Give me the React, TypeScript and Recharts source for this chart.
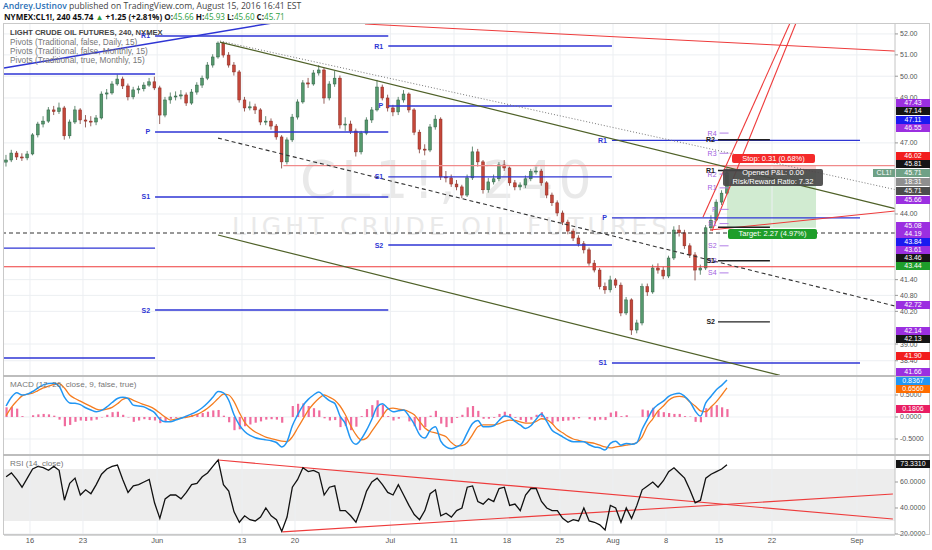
import React from "react";
import {
  ComposedChart,
  Bar,
  Line,
  XAxis,
  YAxis,
  CartesianGrid,
  ReferenceLine,
  ReferenceArea,
} from "recharts";

const MAY_BARS = [
  [46.17, 46.48, 45.98, 46.26], [46.26, 46.7, 46.17, 46.56], [46.56, 46.65, 46.26, 46.39], [46.39, 46.55, 46.22, 46.35],
  [46.35, 46.65, 46.25, 46.52], [46.52, 47.43, 46.46, 47.35], [47.35, 47.93, 47.24, 47.83], [47.83, 48.18, 47.68, 47.96],
  [47.96, 48.59, 47.88, 48.46], [48.46, 48.64, 48.23, 48.39], [48.39, 48.79, 48.28, 48.55], [48.55, 48.64, 47.14, 47.31],
  [47.31, 48.03, 47.19, 47.92], [47.92, 48.64, 47.83, 48.46], [48.46, 48.54, 47.83, 48.01], [48.01, 48.23, 47.68, 47.96],
  [47.96, 48.18, 47.73, 47.92], [47.92, 48.23, 47.78, 48.1], [48.1, 49.3, 48.03, 49.18], [49.18, 49.41, 48.94, 49.23],
  [49.23, 49.77, 49.15, 49.64], [49.64, 50.08, 49.56, 49.87], [49.87, 49.98, 49.41, 49.55], [49.55, 49.66, 48.89, 49.05],
  [49.05, 49.51, 48.94, 49.37], [49.37, 49.56, 49.2, 49.42], [49.42, 49.72, 49.3, 49.59], [49.59, 49.92, 49.51, 49.74],
  [49.74, 49.98, 49.36, 49.46],
];
const JUN_BARS = [
  [49.46, 49.56, 47.83, 48.23], [48.23, 49.05, 48.13, 48.91], [48.91, 49.25, 48.74, 49.05], [49.05, 49.3, 48.89, 49.09],
  [49.09, 49.36, 48.94, 49.14], [49.14, 49.25, 48.64, 48.77], [48.77, 49.41, 48.69, 49.27], [49.27, 49.72, 49.15, 49.59],
  [49.59, 50.03, 49.46, 49.91], [49.91, 50.66, 49.82, 50.52], [50.52, 51.03, 50.4, 50.9], [50.9, 51.64, 50.82, 51.56],
  [51.56, 51.62, 50.87, 50.99], [50.99, 51.13, 50.4, 50.52], [50.52, 50.66, 50.03, 50.2], [50.2, 50.29, 48.79, 48.91],
  [48.91, 49.05, 48.39, 48.55], [48.55, 48.84, 48.44, 48.6], [48.6, 48.74, 48.28, 48.46], [48.46, 48.54, 47.78, 47.92],
  [47.92, 48.18, 47.78, 47.96], [47.96, 48.08, 47.58, 47.74], [47.74, 47.83, 47.14, 47.26], [47.26, 47.34, 45.9, 46.18],
  [46.18, 47.24, 46.07, 47.13], [47.13, 48.28, 47.04, 48.14], [48.14, 48.94, 48.03, 48.82], [48.82, 49.82, 48.74, 49.69],
  [49.69, 49.92, 49.46, 49.64], [49.64, 50.29, 49.56, 50.15], [50.15, 50.52, 50.03, 50.29], [50.29, 50.4, 48.74, 49.0],
  [49.0, 49.77, 48.89, 49.64], [49.64, 50.24, 49.51, 49.91], [49.91, 50.03, 47.63, 47.79], [47.79, 48.13, 47.53, 47.83],
  [47.83, 47.98, 47.39, 47.52], [47.52, 47.63, 46.41, 46.61], [46.61, 47.53, 46.5, 47.43], [47.43, 48.13, 47.34, 48.01],
  [48.01, 48.59, 47.88, 48.46], [48.46, 49.83, 48.39, 49.5], [49.5, 49.61, 48.89, 49.0], [49.0, 49.15, 48.39, 48.55],
];
const JUL_BARS = [
  [48.55, 48.69, 48.18, 48.37], [48.37, 49.05, 48.23, 48.91], [48.91, 49.36, 48.79, 49.18], [49.18, 49.25, 48.34, 48.46],
  [48.46, 48.54, 47.34, 47.47], [47.47, 47.58, 46.55, 46.73], [46.73, 46.94, 46.46, 46.69], [46.69, 47.83, 46.6, 47.7],
  [47.7, 48.23, 47.58, 48.05], [48.05, 48.13, 45.41, 45.54], [45.54, 45.79, 45.31, 45.5], [45.5, 45.64, 45.12, 45.24],
  [45.24, 45.41, 44.98, 45.12], [45.12, 45.21, 44.65, 44.78], [44.78, 45.64, 44.7, 45.5], [45.5, 46.84, 45.41, 46.61],
  [46.61, 46.74, 45.98, 46.18], [46.18, 46.26, 44.84, 45.0], [45.0, 45.5, 44.88, 45.33], [45.33, 45.64, 45.22, 45.46],
  [45.46, 46.17, 45.36, 46.05], [46.05, 46.26, 45.79, 45.92], [45.92, 45.98, 45.17, 45.29], [45.29, 45.41, 44.98, 45.12],
  [45.12, 45.31, 44.98, 45.2], [45.2, 45.6, 45.07, 45.46], [45.46, 45.88, 45.36, 45.76], [45.76, 45.98, 45.64, 45.79],
  [45.79, 45.88, 45.17, 45.29], [45.29, 45.36, 44.65, 44.78], [44.78, 44.88, 44.33, 44.46], [44.46, 44.56, 43.91, 44.04],
  [44.04, 44.14, 43.55, 43.67], [43.67, 43.77, 43.18, 43.31], [43.31, 43.41, 42.91, 43.03], [43.03, 43.14, 42.69, 42.8],
  [42.8, 42.91, 42.42, 42.56], [42.56, 42.65, 41.94, 42.04], [42.04, 42.16, 41.68, 41.77], [41.77, 41.85, 41.03, 41.13],
  [41.13, 41.29, 40.86, 41.01], [41.01, 41.55, 40.91, 41.39],
];
const AUG_BARS = [
  [41.39, 41.46, 41.08, 41.19], [41.19, 41.29, 40.02, 40.14], [40.14, 40.74, 40.06, 40.63], [40.63, 40.69, 39.33, 39.51],
  [39.51, 39.89, 39.39, 39.77], [39.77, 41.25, 39.68, 41.13], [41.13, 41.25, 40.78, 40.93], [40.93, 41.98, 40.86, 41.85],
  [41.85, 42.03, 41.63, 41.77], [41.77, 41.9, 41.42, 41.54], [41.54, 42.33, 41.46, 42.24], [42.24, 43.5, 42.16, 43.35],
  [43.35, 43.55, 43.09, 43.24], [43.24, 43.36, 42.6, 42.72], [42.72, 42.82, 42.24, 42.36], [42.36, 42.47, 41.37, 41.77],
  [41.77, 41.98, 41.59, 41.85], [41.85, 43.55, 41.77, 43.44], [43.44, 43.95, 43.32, 43.75], [43.75, 44.6, 43.73, 44.49],
  [44.49, 44.98, 44.37, 44.86], [44.86, 45.93, 44.79, 45.71],
];

// MACD (12, 26, close, 9) per bar
const MACD_LINE = [
  0.25, 0.45, 0.55, 0.5, 0.52, 0.58, 0.66, 0.73, 0.76, 0.77,
  0.7, 0.45, 0.32, 0.31, 0.28, 0.21, 0.16, 0.12, 0.15, 0.23,
  0.33, 0.42, 0.45, 0.42, 0.27, 0.25, 0.23, 0.17, 0.1, -0.05,
  -0.11, -0.11, -0.07, -0.03, 0.02, 0.07, 0.13, 0.21, 0.32, 0.45,
  0.58, 0.55, 0.38, 0.05, -0.18, -0.33, -0.42, -0.47, -0.5, -0.52,
  -0.54, -0.58, -0.68, -0.56, -0.2, 0.05, 0.26, 0.4, 0.5, 0.57,
  0.47, 0.37, 0.31, 0.02, -0.15, -0.5, -0.62, -0.5, -0.3, -0.05,
  0.23, 0.3, 0.2, 0.12, 0.14, 0.16, 0.02, -0.16, -0.4, -0.48,
  -0.3, -0.22, -0.55, -0.68, -0.72, -0.68, -0.6, -0.36, -0.15, -0.08,
  -0.22, -0.22, -0.2, -0.08, 0.02, 0.0, -0.1, -0.18, -0.26, -0.2,
  -0.05, 0.07, -0.1, -0.3, -0.38, -0.45, -0.52, -0.56, -0.56, -0.56,
  -0.63, -0.68, -0.7, -0.75, -0.6, -0.55, -0.64, -0.6, -0.62, -0.58,
  -0.28, -0.05, 0.17, 0.28, 0.36, 0.47, 0.52, 0.54, 0.47, 0.35,
  0.14, 0.02, 0.32, 0.47, 0.62, 0.72, 0.84,
];
const MACD_SIGNAL = [
  0.03, 0.22, 0.36, 0.48, 0.52, 0.54, 0.6, 0.66, 0.7, 0.74,
  0.76, 0.66, 0.5, 0.42, 0.36, 0.3, 0.24, 0.18, 0.16, 0.18,
  0.22, 0.3, 0.4, 0.43, 0.38, 0.33, 0.28, 0.24, 0.18, 0.09,
  0.0, -0.07, -0.05, -0.02, -0.01, 0.02, 0.06, 0.12, 0.2, 0.3,
  0.42, 0.52, 0.5, 0.35, 0.1, -0.12, -0.25, -0.34, -0.4, -0.46,
  -0.49, -0.52, -0.55, -0.56, -0.45, -0.25, -0.05, 0.15, 0.3, 0.42,
  0.5, 0.45, 0.38, 0.25, 0.05, -0.2, -0.4, -0.52, -0.48, -0.32,
  -0.15, 0.02, 0.18, 0.2, 0.18, 0.16, 0.12, 0.05, -0.1, -0.25,
  -0.33, -0.36, -0.4, -0.45, -0.58, -0.66, -0.65, -0.58, -0.4, -0.22,
  -0.18, -0.18, -0.18, -0.15, -0.1, -0.07, -0.08, -0.11, -0.14, -0.14,
  -0.1, -0.04, -0.06, -0.15, -0.28, -0.36, -0.44, -0.5, -0.53, -0.56,
  -0.58, -0.6, -0.64, -0.68, -0.7, -0.68, -0.66, -0.64, -0.62, -0.58,
  -0.45, -0.2, -0.04, 0.14, 0.25, 0.38, 0.45, 0.47, 0.45, 0.34,
  0.25, 0.14, 0.12, 0.23, 0.35, 0.5, 0.66,
];
const MACD_HIST = [
  0.22, 0.23, 0.19, 0.02, 0.0, 0.04, 0.06, 0.07, 0.06, 0.03,
  -0.06, -0.21, -0.18, -0.11, -0.08, -0.09, -0.08, -0.06, -0.01, 0.05,
  0.11, 0.12, 0.05, -0.01, -0.11, -0.08, -0.05, -0.07, -0.08, -0.14,
  -0.11, -0.04, -0.02, -0.01, 0.03, 0.05, 0.07, 0.09, 0.12, 0.15,
  0.16, 0.03, -0.12, -0.3, -0.28, -0.21, -0.17, -0.13, -0.1, -0.06,
  -0.05, -0.06, -0.13, 0.0, 0.25, 0.3, 0.31, 0.25, 0.2, 0.15,
  -0.03, -0.08, -0.07, -0.23, -0.2, -0.3, -0.22, 0.02, 0.18, 0.27,
  0.38, 0.28, 0.02, -0.08, -0.04, 0.0, -0.1, -0.21, -0.3, -0.23,
  0.03, 0.14, -0.15, -0.23, -0.14, -0.02, 0.05, 0.22, 0.25, 0.14,
  -0.04, -0.04, -0.02, 0.07, 0.12, 0.07, -0.02, -0.07, -0.12, -0.06,
  0.05, 0.11, -0.04, -0.15, -0.1, -0.09, -0.08, -0.06, -0.03, 0.0,
  -0.05, -0.08, -0.06, -0.07, 0.1, 0.13, 0.02, 0.04, 0.0, 0.0,
  0.17, 0.15, 0.21, 0.14, 0.11, 0.09, 0.07, 0.07, 0.02, 0.01,
  -0.11, -0.12, 0.2, 0.24, 0.27, 0.22, 0.18,
];

// RSI (14, close) per bar
const RSI_LINE = [
  64, 67, 62, 56, 63, 70, 72, 71, 69, 72,
  69, 46, 59, 63, 50, 54, 51, 58, 66, 70,
  72, 73, 62, 52, 57, 58, 60, 62, 44, 32,
  47, 50, 50, 47, 52, 58, 59, 64, 67, 72,
  77, 58, 53, 37, 29, 34, 31, 30, 33, 40,
  34, 31, 22, 33, 56, 62, 71, 68, 69, 67,
  50, 56, 57, 38, 38, 34, 29, 40, 53, 60,
  63, 58, 52, 50, 58, 50, 42, 35, 31, 38,
  51, 54, 34, 36, 33, 38, 40, 56, 57, 45,
  43, 47, 45, 55, 56, 42, 43, 38, 50, 55,
  55, 45, 40, 38, 38, 32, 29, 31, 30, 40,
  30, 29, 27, 23, 42, 40, 29, 40, 32, 42,
  54, 57, 60, 56, 61, 68, 71, 67, 63, 54,
  44, 46, 63, 66, 68, 70, 73.33,
];

// time axis in trading days, May 16 = 0
const FIRST_BAR_DAY = -2.25;
const BAR_STEP = 0.5;
const X_DOMAIN = [-2.45, 81.6];
const DATE_TICKS = [0, 5, 12, 20, 25, 34, 40, 45, 50, 55, 60, 65, 70, 78];
const DATE_LABELS = ["16", "23", "Jun", "13", "20", "Jul", "11", "18", "25", "Aug", "8", "15", "22", "Sep"];

const PRICE_DOMAIN = [37.86, 52.53];
const PRICE_TICKS = [38.4, 39, 40.2, 40.8, 41.4, 44, 47, 49, 50, 51, 52];
const MACD_DOMAIN = [-0.864, 0.932];
const MACD_TICKS = [-0.5, 0, 0.5];
const RSI_DOMAIN = [19.2, 80.8];
const RSI_TICKS = [20, 40, 60];

// monthly pivots (Traditional, false, Monthly): [from day, to day], names, levels
const MONTHLY_PIVOTS = [
  { span: [-2.45, 11.8], names: ["", "", ""], levels: [50.1, 42.63, 38.5] },
  { span: [11.8, 33.8], names: ["R1", "P", "S1", "S2"], levels: [51.9, 47.48, 44.7, 40.25] },
  { span: [33.8, 54.9], names: ["R1", "P", "S1", "S2"], levels: [51.42, 48.64, 45.54, 42.75] },
  { span: [54.9, 78.3], names: ["R1", "P", "S1"], levels: [47.11, 43.84, 38.32] },
];
const DAILY_PIVOT_SPAN = [65.05, 65.9];
const DAILY_PIVOT_NAMES = ["R4", "R3", "R2", "R1", "P", "S1", "S2", "S3", "S4"];
const DAILY_PIVOT_LEVELS = [47.43, 46.55, 45.66, 45.08, 44.19, 43.61, 42.72, 42.14, 41.66];
const TRUE_PIVOT_SPAN = [64.9, 69.8];
const TRUE_PIVOT_NAMES = ["R2", "R1", "", "S1", "S2"];
const TRUE_PIVOT_LEVELS = [47.14, 45.81, 43.46, 42.13, 39.81];

// drawn trend lines, [day, price] end points
const BLUE_TREND = [[-2.45, 50.38], [22.83, 52.53]];
const CHANNEL_TOP = [[17.92, 51.61], [81.6, 44.22]];
const CHANNEL_DOTTED = [[17.92, 51.66], [81.6, 45.01]];
const CHANNEL_MID = [[17.74, 47.21], [81.6, 40.4]];
const CHANNEL_LOW = [[17.74, 43.15], [70.75, 37.88]];
const RED_TOP = [[31.6, 52.48], [81.6, 51.18]];
const RED_FORK_A = [[63.49, 43.88], [71.7, 52.53]];
const RED_FORK_B = [[64.34, 43.31], [72.26, 52.53]];
const RED_BASE = [[64.15, 43.35], [81.6, 44.12]];
const DASHED_LEVEL = 43.23;
const RED_LEVEL_HIGH = { from: 23.9, price: 46.02 };
const RED_LEVEL_LOW = 41.9;
const RSI_TREND_DOWN = [[17.74, 76.9], [81.4, 31.5]];
const RSI_TREND_UP = [[23.8, 21.6], [81.4, 50.8]];

// short position tool
const POSITION = { from: 65.75, to: 74.15, entry: 45.71, stop: 46.02, target: 43.44 };

const BARS = [...MAY_BARS, ...JUN_BARS, ...JUL_BARS, ...AUG_BARS];
const rows = BARS.map((b, i) => ({
  t: FIRST_BAR_DAY + i * BAR_STEP,
  ohlc: b,
  range: [b[2], b[1]],
  macd: MACD_LINE[i],
  signal: MACD_SIGNAL[i],
  hist: MACD_HIST[i],
  rsi: RSI_LINE[i],
}));

const FONT = "'Liberation Sans', Arial, sans-serif";
const MARGIN = { top: 0, right: 0, bottom: 0, left: 4 };
const AXIS_W = 37;
const GRID = "#eceff2";
const PIVOT_BLUE = "#2e35d4";
const VIOLET = "#b17ee6";
const RED = "#ee3b3b";
const OLIVE = "#4f6128";

const TONES: Record<string, string> = {
  purple: "#9b2fe0",
  black: "#151515",
  blue: "#1a1af0",
  red: "#f21d1d",
  green: "#1e9e2a",
  gray: "#4d4d4d",
  sym: "#6fa186",
  clock: "#8f8f8f",
  macd: "#2196f3",
  signal: "#ff6d00",
  hist: "#e91e63",
};

const PRICE_TAGS = [
  { text: "47.43", tone: "purple", top: 99 },
  { text: "47.14", tone: "black", top: 107 },
  { text: "47.11", tone: "blue", top: 116 },
  { text: "46.55", tone: "purple", top: 124 },
  { text: "46.02", tone: "red", top: 152 },
  { text: "45.81", tone: "black", top: 160 },
  { text: "45.71", tone: "sym", top: 169 },
  { text: "18:31", tone: "clock", top: 178 },
  { text: "45.71", tone: "gray", top: 187 },
  { text: "45.66", tone: "purple", top: 196 },
  { text: "45.08", tone: "purple", top: 222 },
  { text: "44.19", tone: "purple", top: 230 },
  { text: "43.84", tone: "blue", top: 238 },
  { text: "43.61", tone: "purple", top: 246 },
  { text: "43.46", tone: "black", top: 254 },
  { text: "43.44", tone: "green", top: 262 },
  { text: "42.72", tone: "purple", top: 301 },
  { text: "42.14", tone: "purple", top: 327 },
  { text: "42.13", tone: "black", top: 335 },
  { text: "41.90", tone: "red", top: 352 },
  { text: "41.66", tone: "purple", top: 368 },
  { text: "0.8367", tone: "macd", top: 377 },
  { text: "0.6560", tone: "signal", top: 385 },
  { text: "0.1806", tone: "hist", top: 405 },
  { text: "73.3310", tone: "black", top: 460 },
];

const Candle = (props: any) => {
  const { x, y, width, height, payload } = props;
  if (!payload) return null;
  const [o, h, l, c] = payload.ohlc;
  const top = Math.min(y, y + height);
  const span = Math.abs(height);
  const cx = x + width / 2;
  // log scale: place the body by interpolating in log space between high and low
  const lh = Math.log(h);
  const ll = Math.log(l);
  const py = (v: number) => (lh - ll > 0 ? top + ((lh - Math.log(v)) / (lh - ll)) * span : top);
  const bodyTop = py(Math.max(o, c));
  const bodyH = Math.max(1, py(Math.min(o, c)) - bodyTop);
  const up = c >= o;
  return (
    <g>
      <line x1={cx} x2={cx} y1={top} y2={top + span} stroke={up ? "#3f6f52" : "#7d3a33"} strokeWidth={0.8} />
      <rect
        x={cx - 1.4}
        y={bodyTop}
        width={2.8}
        height={bodyH}
        fill={up ? "#55996d" : "#c4473a"}
        stroke={up ? "#2f5f43" : "#8a2a22"}
        strokeWidth={0.5}
      />
    </g>
  );
};

const seg = (pts: number[][]) => [
  { x: pts[0][0], y: pts[0][1] },
  { x: pts[1][0], y: pts[1][1] },
];

const dayGrid = () =>
  DATE_TICKS.map((t) => <ReferenceLine key={"g" + t} x={t} stroke={GRID} ifOverflow="visible" />);

const Tag = ({ text, tone, top }: { text: string; tone: string; top: number }) => (
  <div
    style={{
      position: "absolute",
      left: 896,
      top,
      width: 34,
      height: 8,
      background: TONES[tone],
      color: "#fff",
      fontSize: 7,
      lineHeight: "8px",
      textAlign: "center",
      fontFamily: FONT,
    }}
  >
    {text}
  </div>
);

const abs = (left: number, top: number, extra: React.CSSProperties = {}): React.CSSProperties => ({
  position: "absolute",
  left,
  top,
  whiteSpace: "nowrap",
  fontFamily: FONT,
  ...extra,
});

export default function App() {
  const yTick = { fontSize: 7, fill: "#555", fontFamily: FONT };
  return (
    <div style={{ position: "relative", width: 932, height: 550, overflow: "hidden", background: "#fff" }}>
      <style>{"body{margin:0}"}</style>

      {/* watermark */}
      <div style={abs(300, 150, { fontSize: 52, color: "#e9e9e9", letterSpacing: 5, fontFamily: "'DejaVu Sans', sans-serif" })}>
        CL1!, 240
      </div>
      <div style={abs(232, 212, { fontSize: 25, color: "#e9e9e9", letterSpacing: 4.2, fontFamily: "'DejaVu Sans', sans-serif" })}>
        LIGHT CRUDE OIL FUTURES
      </div>

      {/* main price pane, logarithmic price scale */}
      <div style={{ position: "absolute", left: 0, top: 23 }}>
        <ComposedChart width={932} height={353} data={rows} margin={MARGIN} style={{ fontFamily: FONT }}>
          <CartesianGrid vertical={false} stroke={GRID} />
          {dayGrid()}
          <XAxis type="number" dataKey="t" domain={X_DOMAIN} hide allowDataOverflow />
          <YAxis
            orientation="right"
            scale="log"
            width={AXIS_W}
            domain={PRICE_DOMAIN}
            ticks={PRICE_TICKS}
            interval={0}
            allowDataOverflow
            tick={yTick}
            tickSize={3}
            tickMargin={2}
            tickLine={{ stroke: "#999" }}
            axisLine={{ stroke: "#c4c4c4" }}
            tickFormatter={(v: number) => v.toFixed(2)}
          />

          {MONTHLY_PIVOTS.map((m, mi) =>
            m.levels.map((lv, li) => (
              <ReferenceLine
                key={`mp${mi}-${li}`}
                segment={[{ x: m.span[0], y: lv }, { x: m.span[1], y: lv }]}
                stroke={PIVOT_BLUE}
                strokeWidth={1.4}
                ifOverflow="visible"
                label={
                  m.names[li]
                    ? { value: m.names[li], position: "left", offset: 5, fill: PIVOT_BLUE, fontSize: 7, fontWeight: 700 }
                    : undefined
                }
              />
            ))
          )}

          <ReferenceArea
            x1={POSITION.from}
            x2={POSITION.to}
            y1={POSITION.entry}
            y2={POSITION.stop}
            fill="#f6c4c4"
            fillOpacity={0.8}
            ifOverflow="visible"
          />
          <ReferenceArea
            x1={POSITION.from}
            x2={POSITION.to}
            y1={POSITION.target}
            y2={POSITION.entry}
            fill="#c9e8c9"
            fillOpacity={0.85}
            ifOverflow="visible"
          />

          <ReferenceLine y={DASHED_LEVEL} stroke="#333" strokeDasharray="4 3" strokeWidth={1.1} ifOverflow="visible" />
          <ReferenceLine y={RED_LEVEL_LOW} stroke={RED} strokeWidth={1.1} ifOverflow="visible" />
          <ReferenceLine
            segment={[{ x: RED_LEVEL_HIGH.from, y: RED_LEVEL_HIGH.price }, { x: X_DOMAIN[1], y: RED_LEVEL_HIGH.price }]}
            stroke="#f08a8a"
            strokeWidth={1.1}
            ifOverflow="visible"
          />
          <ReferenceLine segment={seg(BLUE_TREND)} stroke={PIVOT_BLUE} strokeWidth={1.5} ifOverflow="visible" />
          <ReferenceLine segment={seg(CHANNEL_DOTTED)} stroke="#777" strokeDasharray="1 2" ifOverflow="visible" />
          <ReferenceLine segment={seg(CHANNEL_TOP)} stroke={OLIVE} strokeWidth={1.2} ifOverflow="visible" />
          <ReferenceLine segment={seg(CHANNEL_MID)} stroke="#333" strokeDasharray="4 3" strokeWidth={1.1} ifOverflow="visible" />
          <ReferenceLine segment={seg(CHANNEL_LOW)} stroke={OLIVE} strokeWidth={1.2} ifOverflow="visible" />
          <ReferenceLine segment={seg(RED_TOP)} stroke={RED} strokeWidth={1} ifOverflow="visible" />
          <ReferenceLine segment={seg(RED_FORK_A)} stroke={RED} strokeWidth={1.1} ifOverflow="visible" />
          <ReferenceLine segment={seg(RED_FORK_B)} stroke={RED} strokeWidth={1.1} ifOverflow="visible" />
          <ReferenceLine segment={seg(RED_BASE)} stroke={RED} strokeWidth={1.1} ifOverflow="visible" />

          {DAILY_PIVOT_LEVELS.map((lv, i) => (
            <ReferenceLine
              key={"dp" + i}
              segment={[{ x: DAILY_PIVOT_SPAN[0], y: lv }, { x: DAILY_PIVOT_SPAN[1], y: lv }]}
              stroke={VIOLET}
              strokeWidth={1}
              ifOverflow="visible"
              label={{ value: DAILY_PIVOT_NAMES[i], position: "left", offset: 3, fill: "#a060e0", fontSize: 7 }}
            />
          ))}
          {TRUE_PIVOT_LEVELS.map((lv, i) => (
            <ReferenceLine
              key={"tp" + i}
              segment={[{ x: TRUE_PIVOT_SPAN[0], y: lv }, { x: TRUE_PIVOT_SPAN[1], y: lv }]}
              stroke="#222"
              strokeWidth={1.4}
              ifOverflow="visible"
              label={
                TRUE_PIVOT_NAMES[i]
                  ? { value: TRUE_PIVOT_NAMES[i], position: "left", offset: 3, fill: "#222", fontSize: 7, fontWeight: 700 }
                  : undefined
              }
            />
          ))}

          <Bar dataKey="range" barSize={3} shape={<Candle />} isAnimationActive={false} />
        </ComposedChart>
      </div>

      {/* MACD pane */}
      <div style={{ position: "absolute", left: 0, top: 376 }}>
        <ComposedChart width={932} height={79} data={rows} margin={MARGIN} style={{ fontFamily: FONT }}>
          <CartesianGrid vertical={false} stroke={GRID} />
          {dayGrid()}
          <XAxis type="number" dataKey="t" domain={X_DOMAIN} hide allowDataOverflow />
          <YAxis
            orientation="right"
            width={AXIS_W}
            domain={MACD_DOMAIN}
            ticks={MACD_TICKS}
            interval={0}
            allowDataOverflow
            tick={yTick}
            tickSize={3}
            tickMargin={2}
            tickLine={{ stroke: "#999" }}
            axisLine={{ stroke: "#c4c4c4" }}
            tickFormatter={(v: number) => v.toFixed(4)}
          />
          <Bar dataKey="hist" barSize={2.2} fill="#f06c9e" isAnimationActive={false} />
          <Line dataKey="signal" type="monotone" stroke="#f57c1f" strokeWidth={1.3} dot={false} isAnimationActive={false} />
          <Line dataKey="macd" type="monotone" stroke="#2196f3" strokeWidth={1.5} dot={false} isAnimationActive={false} />
        </ComposedChart>
      </div>

      {/* RSI pane + time axis */}
      <div style={{ position: "absolute", left: 0, top: 455 }}>
        <ComposedChart width={932} height={95} data={rows} margin={MARGIN} style={{ fontFamily: FONT }}>
          <ReferenceArea y1={30} y2={70} fill="#ededed" fillOpacity={1} ifOverflow="visible" />
          <CartesianGrid vertical={false} stroke={GRID} />
          {dayGrid()}
          <XAxis
            type="number"
            dataKey="t"
            domain={X_DOMAIN}
            ticks={DATE_TICKS}
            interval={0}
            allowDataOverflow
            height={15}
            tickSize={2}
            tickMargin={1}
            tickLine={false}
            axisLine={{ stroke: "#b5b5b5" }}
            tick={{ fontSize: 7.5, fill: "#555", fontFamily: FONT }}
            tickFormatter={(v: number) => DATE_LABELS[DATE_TICKS.indexOf(v)] ?? ""}
          />
          <YAxis
            orientation="right"
            width={AXIS_W}
            domain={RSI_DOMAIN}
            ticks={RSI_TICKS}
            interval={0}
            allowDataOverflow
            tick={yTick}
            tickSize={3}
            tickMargin={2}
            tickLine={{ stroke: "#999" }}
            axisLine={{ stroke: "#c4c4c4" }}
            tickFormatter={(v: number) => v.toFixed(4)}
          />
          <ReferenceLine segment={seg(RSI_TREND_DOWN)} stroke={RED} strokeWidth={1.1} ifOverflow="visible" />
          <ReferenceLine segment={seg(RSI_TREND_UP)} stroke={RED} strokeWidth={1.1} ifOverflow="visible" />
          <Line dataKey="rsi" type="linear" stroke="#111" strokeWidth={1.3} dot={false} isAnimationActive={false} />
        </ComposedChart>
      </div>

      {/* frame */}
      <div style={{ position: "absolute", left: 3, top: 23, width: 927, height: 512, border: "1px solid #c9c9c9", boxSizing: "border-box", pointerEvents: "none" }} />
      <div style={{ position: "absolute", left: 3, top: 375, width: 927, height: 2, background: "#bdbdbd" }} />
      <div style={{ position: "absolute", left: 3, top: 454, width: 927, height: 2, background: "#bdbdbd" }} />

      {/* header */}
      <div style={abs(3, 0, { fontSize: 8.6, lineHeight: "12px", color: "#444", fontFamily: "'Open Sans', sans-serif" })}>
        <span style={{ color: "#2a6fb5", fontWeight: 600 }}>Andrey.Ustinov</span> published on TradingView.com, August 15, 2016 16:41 EST
      </div>
      <div style={abs(4, 11, { fontSize: 8.1, lineHeight: "11px", color: "#111", fontWeight: 700, fontFamily: "'Open Sans', sans-serif" })}>
        NYMEX:CL1!, 240 45.74 <span style={{ color: "#2e9e3e" }}>▲</span> +1.25 (+2.81%) O:
        <span style={{ color: "#2e9e3e", fontWeight: 400 }}>45.66</span> H:
        <span style={{ color: "#2e9e3e", fontWeight: 400 }}>45.93</span> L:
        <span style={{ color: "#2e9e3e", fontWeight: 400 }}>45.60</span> C:
        <span style={{ color: "#2e9e3e", fontWeight: 400 }}>45.71</span>
      </div>

      {/* legends */}
      <div style={abs(10, 28, { fontSize: 7.6, lineHeight: "9px", color: "#444", fontWeight: 700 })}>
        LIGHT CRUDE OIL FUTURES, 240, NYMEX
      </div>
      <div style={abs(10, 37.5, { fontSize: 8.3, lineHeight: "9.3px", color: "#777" })}>
        Pivots (Traditional, false, Daily, 15)
        <br />
        Pivots (Traditional, false, Monthly, 15)
        <br />
        Pivots (Traditional, true, Monthly, 15)
      </div>
      <div style={abs(10, 380, { fontSize: 8.1, color: "#777" })}>MACD (12, 26, close, 9, false, true)</div>
      <div style={abs(10, 459, { fontSize: 8.1, color: "#777" })}>RSI (14, close)</div>

      {/* position tool labels */}
      <div style={abs(732, 154, { width: 83, height: 9, background: "#f42a2a", color: "#fff", fontSize: 7.5, lineHeight: "9px", textAlign: "center", borderRadius: 2 })}>
        Stop: 0.31 (0.68%)
      </div>
      <div style={abs(723, 169, { width: 100, height: 17, background: "rgba(72,72,72,0.92)", color: "#fff", fontSize: 7.5, lineHeight: "8.5px", textAlign: "center", borderRadius: 2 })}>
        Opened P&amp;L: 0.00
        <br />
        Risk/Reward Ratio: 7.32
      </div>
      <div style={abs(728, 229, { width: 89, height: 10, background: "#1e9e2a", color: "#fff", fontSize: 7.5, lineHeight: "10px", textAlign: "center", borderRadius: 2 })}>
        Target: 2.27 (4.97%)
      </div>

      {/* price scale tags */}
      <div style={abs(873, 169, { width: 22, height: 8, background: TONES.sym, color: "#fff", fontSize: 7, lineHeight: "8px", textAlign: "center" })}>
        CL1!
      </div>
      {PRICE_TAGS.map((p, i) => (
        <Tag key={i} text={p.text} tone={p.tone} top={p.top} />
      ))}
    </div>
  );
}
